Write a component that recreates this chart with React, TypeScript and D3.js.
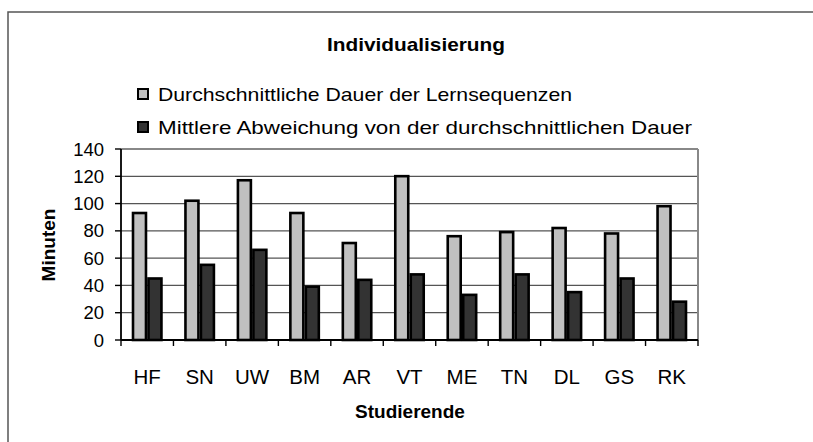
import * as d3 from 'd3';
import React from 'react';

const students = ['HF', 'SN', 'UW', 'BM', 'AR', 'VT', 'ME', 'TN', 'DL', 'GS', 'RK'];
const avgDuration = [94, 103, 118, 94, 72, 121, 77, 80, 83, 79, 99];
const meanDeviation = [46, 56, 67, 40, 45, 49, 34, 49, 36, 46, 29];
const seriesNames = [
  'Durchschnittliche Dauer der Lernsequenzen',
  'Mittlere Abweichung von der durchschnittlichen Dauer',
];
const yTicks = [0, 20, 40, 60, 80, 100, 120, 140];

const W = 813;
const H = 442;
const plot = { left: 121, right: 698, top: 149, bottom: 340 };
const font = 'Arial, "Liberation Sans", sans-serif';
const colors = ['#c0c0c0', '#333333'];

const App: React.FC = () => {
  const x = d3.scaleBand<string>().domain(students).range([plot.left, plot.right]).paddingInner(0.41).paddingOuter(0.205);
  const step = x.step();
  const x1 = d3.scaleBand<number>().domain([0, 1]).range([0, x.bandwidth()]);
  const y = d3.scaleLinear().domain([0, 140]).range([plot.bottom, plot.top]);
  const series = [avgDuration, meanDeviation];

  return (
    <div style={{ position: 'fixed', inset: 0, overflow: 'hidden', background: '#fff' }}>
      <svg width={W} height={H} style={{ display: 'block' }} fontFamily={font}>
        {/* outer frame, runs off the right and bottom */}
        <path d={`M${W + 10},12 H8 V${H + 10}`} fill="none" stroke="#555" strokeWidth={1.5} />

        <text x={416} y={51} textAnchor="middle" fontWeight="bold" fontSize={18.5} textLength={178} lengthAdjust="spacingAndGlyphs">
          Individualisierung
        </text>

        {/* legend */}
        {seriesNames.map((name, i) => (
          <g key={name} transform={`translate(137,${88 + i * 33})`}>
            <rect x={1} y={1} width={10} height={10} fill={colors[i]} stroke="#000" strokeWidth={2} />
            <text x={21} y={12.5} fontSize={18.5} textLength={i === 0 ? 414 : 534} lengthAdjust="spacingAndGlyphs">
              {name}
            </text>
          </g>
        ))}

        {/* grid */}
        {yTicks.map((t) => (
          <line key={t} x1={plot.left} x2={plot.right} y1={y(t)} y2={y(t)} stroke={t === 140 ? '#888' : '#555'} strokeWidth={t === 140 ? 2 : 1.2} />
        ))}
        <line x1={plot.right} x2={plot.right} y1={plot.top} y2={plot.bottom} stroke="#888" strokeWidth={2} />

        {/* bars */}
        {students.map((s, i) => (
          <g key={s} transform={`translate(${x(s)},0)`}>
            {series.map((vals, j) => (
              <rect
                key={j}
                x={x1(j)! + 1.25}
                y={y(vals[i]) + 1.25}
                width={x1.bandwidth() - 2.5}
                height={y(0) - y(vals[i]) - 1.25}
                fill={colors[j]}
                stroke="#000"
                strokeWidth={2.6}
              />
            ))}
          </g>
        ))}

        {/* y axis */}
        <line x1={plot.left} x2={plot.left} y1={plot.top} y2={plot.bottom} stroke="#000" strokeWidth={1.8} />
        {yTicks.map((t) => (
          <g key={t}>
            <line x1={plot.left - 6} x2={plot.left} y1={y(t)} y2={y(t)} stroke="#000" strokeWidth={1.4} />
            <text x={104} y={y(t) + 6.5} textAnchor="end" fontSize={18.5}>
              {t}
            </text>
          </g>
        ))}

        {/* x axis */}
        <line x1={plot.left} x2={plot.right} y1={plot.bottom} y2={plot.bottom} stroke="#000" strokeWidth={2.2} />
        {d3.range(students.length + 1).map((k) => (
          <line key={k} x1={plot.left + k * step} x2={plot.left + k * step} y1={plot.bottom} y2={plot.bottom + 6} stroke="#000" strokeWidth={1.4} />
        ))}
        {students.map((s) => (
          <text key={s} x={x(s)! + x.bandwidth() / 2} y={384} textAnchor="middle" fontSize={20.5}>
            {s}
          </text>
        ))}

        <text x={410} y={418} textAnchor="middle" fontWeight="bold" fontSize={19}>
          Studierende
        </text>
        <text transform="translate(55,245) rotate(-90)" textAnchor="middle" fontWeight="bold" fontSize={19}>
          Minuten
        </text>
      </svg>
    </div>
  );
};

export default App;
